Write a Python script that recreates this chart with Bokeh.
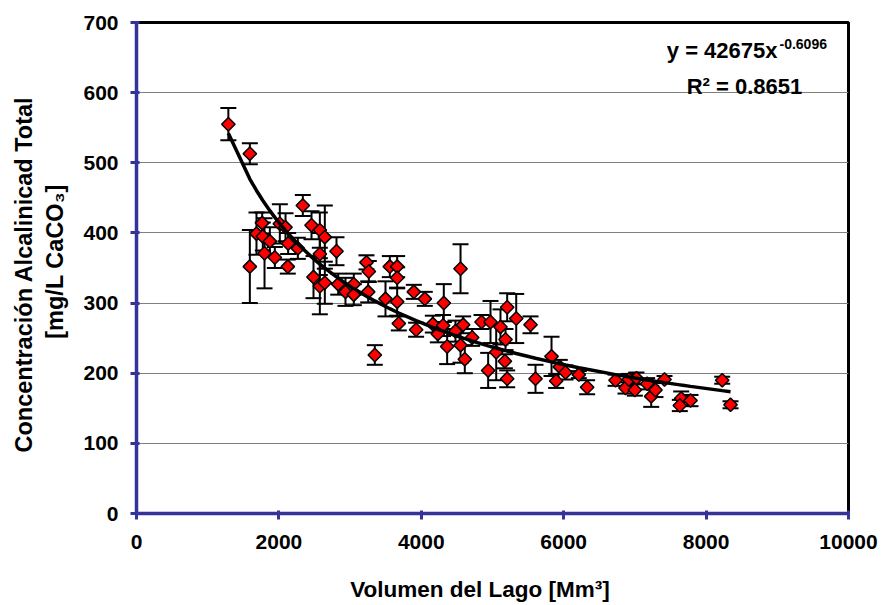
import numpy as np
from bokeh.plotting import figure
from bokeh.models import ColumnDataSource, Whisker, TeeHead, Label, FixedTicker, Range1d
from bokeh.embed import file_html
from bokeh.resources import INLINE

# Lake volume [Mm3] and total alkalinity [mg/L CaCO3] with measurement spread
volumen = [1290, 1592, 1592, 1685, 1765, 1774, 1798, 1873, 1943, 2013,
           2093, 2125, 2130, 2266, 2336, 2458, 2486, 2575, 2575, 2575,
           2645, 2645, 2809, 2833, 2935, 3052, 3052, 3230, 3263, 3254,
           3347, 3497, 3558, 3661, 3661, 3661, 3684, 3895, 3927, 4049,
           4162, 4232, 4306, 4316, 4363, 4480, 4551, 4551, 4588, 4611,
           4714, 4846, 4939, 4972, 5052, 5112, 5174, 5183, 5206, 5206,
           5333, 5534, 5604, 5829, 5894, 5945, 6025, 6212, 6329, 6728,
           6868, 6915, 6999, 7022, 7172, 7229, 7289, 7416, 7650, 7631,
           7781, 8226, 8343]
alcalinidad = [555, 513, 352, 399, 414, 395, 371, 388, 365, 413,
               408, 352, 385, 378, 439, 411, 337, 404, 370, 324,
               394, 329, 374, 327, 316, 327, 312, 358, 345, 316,
               226, 306, 352, 352, 336, 302, 271, 316, 262, 306,
               270, 256, 268, 300, 238, 260, 349, 240, 269, 220,
               251, 273, 204, 273, 230, 266, 217, 248, 294, 192,
               278, 269, 192, 224, 189, 209, 201, 198, 180, 190,
               179, 191, 176, 193, 185, 167, 176, 191, 164, 154,
               161, 190, 155]
error = [23, 15, 52, 30, 15, 20, 50, 20, 15, 28,
         20, 10, 15, 15, 15, 20, 30, 25, 30, 40,
         45, 30, 20, 15, 20, 15, 15, 10, 15, 15,
         14, 25, 15, 15, 15, 20, 10, 10, 10, 10,
         12, 12, 15, 27, 25, 15, 35, 25, 12, 20,
         12, 10, 25, 30, 40, 25, 10, 15, 20, 12,
         35, 12, 20, 28, 10, 10, 10, 5, 10, 8,
         8, 8, 8, 8, 8, 15, 10, 5, 10, 8,
         8, 5, 5]

# Power-law fit y = a * x^b
coef_a = 42675
coef_b = -0.6096
r_cuadrado = 0.8651

x_ticks = [0, 2000, 4000, 6000, 8000, 10000]
y_ticks = [0, 100, 200, 300, 400, 500, 600, 700]

FONT = "Liberation Sans"
AXIS_BLUE = "#333399"
NBSP = "\u00a0"

W, H = 883, 605
LEFT, RIGHT, TOP, BOTTOM = 136, 848, 22, 513

p = figure(width=W, height=H, output_backend="svg", toolbar_location=None,
           x_range=Range1d(0, 10000), y_range=Range1d(0, 700),
           min_border_left=LEFT, min_border_right=W - RIGHT,
           min_border_top=TOP, min_border_bottom=H - BOTTOM)
p.background_fill_color = "white"
p.border_fill_color = "white"
p.outline_line_color = "black"
p.outline_line_width = 3

p.xgrid.visible = False
p.ygrid.grid_line_color = "#808080"
p.ygrid.grid_line_width = 1
p.xaxis.ticker = FixedTicker(ticks=x_ticks)
p.yaxis.ticker = FixedTicker(ticks=y_ticks)

for ax in (p.xaxis[0], p.yaxis[0]):
    ax.axis_line_color = AXIS_BLUE
    ax.axis_line_width = 3.5
    ax.major_tick_line_color = AXIS_BLUE
    ax.major_tick_line_width = 3
    ax.major_tick_in = 3
    ax.major_tick_out = 6
    ax.minor_tick_line_color = None
    ax.major_label_text_font = FONT
    ax.major_label_text_font_style = "bold"
    ax.major_label_text_font_size = "21px"
    ax.major_label_text_color = "black"
    ax.axis_label_text_font = FONT
    ax.axis_label_text_font_style = "bold"
    ax.axis_label_text_color = "black"
p.xaxis.major_label_standoff = 15
p.yaxis.major_label_standoff = 12

# Axis titles (non-breaking spaces nudge the centred text along the axis)
p.xaxis.axis_label = "Volumen del Lago [Mm³]" + NBSP * 4
p.xaxis.axis_label_text_font_size = "22.5px"
p.xaxis.axis_label_standoff = 25
p.yaxis.axis_label = ("Concentración Alcalinicad Total" + NBSP * 2 + "\n"
                      + NBSP * 2 + "[mg/L CaCO₃]")
p.yaxis.axis_label_text_font_size = "23.5px"
p.yaxis.axis_label_standoff = 12

src = ColumnDataSource(dict(
    x=volumen, y=alcalinidad,
    upper=[v + e for v, e in zip(alcalinidad, error)],
    lower=[v - e for v, e in zip(alcalinidad, error)],
))

whisk = Whisker(source=src, base="x", upper="upper", lower="lower",
                line_color="black", line_width=2,
                upper_head=TeeHead(size=16, line_width=2, line_color="black"),
                lower_head=TeeHead(size=16, line_width=2, line_color="black"))
p.add_layout(whisk)

p.scatter("x", "y", source=src, marker="square", angle=np.pi / 4, size=9.5,
          fill_color="#FF0000", line_color="black", line_width=1.5)

# Fitted curve evaluated at the observed volumes
xs = np.array(sorted(set(volumen)), dtype=float)
p.line(xs, coef_a * xs ** coef_b, line_color="black", line_width=3.5)


def lab(px, py, text, size, align="left"):
    """Place a text label at canvas pixel position (px, py) inside the frame."""
    p.add_layout(Label(x=px - LEFT, y=BOTTOM - py, x_units="screen", y_units="screen",
                       text=text, text_font=FONT, text_font_style="bold",
                       text_font_size=f"{size}px", text_color="black",
                       text_align=align, text_baseline="alphabetic"))


# Fit equation
lab(777, 50, f"y = {coef_a}x", 22, align="right")
lab(779, 43, f"{coef_b}", 14)
lab(744, 86, f"R² = {r_cuadrado}", 22, align="center")

open("out.html", "w").write(file_html(p, INLINE))
